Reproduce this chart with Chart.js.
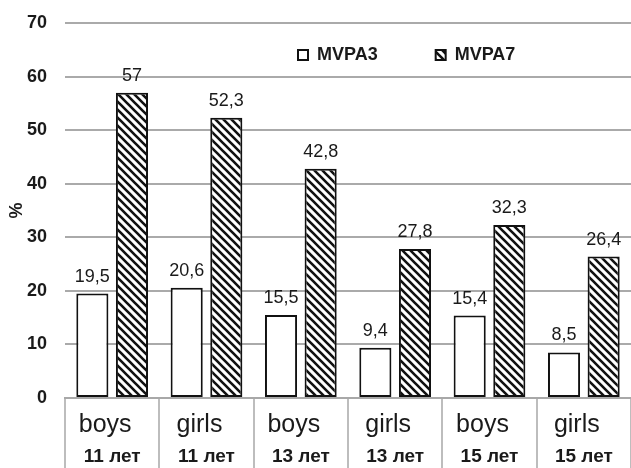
<!DOCTYPE html>
<html>
<head>
<meta charset="utf-8">
<script src="https://cdn.jsdelivr.net/npm/chart.js@4"></script>
<style>
  html, body { margin: 0; padding: 0; background: #fff; }
  #wrap { width: 631px; height: 468px; }
</style>
</head>
<body>
<div id="wrap"><canvas id="mvpaChart" width="631" height="468"></canvas></div>
<script>
'use strict'

// data
const groups = ['boys', 'girls', 'boys', 'girls', 'boys', 'girls'];
const ages = ['11 лет', '11 лет', '13 лет', '13 лет', '15 лет', '15 лет'];
const mvpa3 = [19.5, 20.6, 15.5, 9.4, 15.4, 8.5];
const mvpa7 = [57, 52.3, 42.8, 27.8, 32.3, 26.4];
const yTicks = [0, 10, 20, 30, 40, 50, 60, 70];

// diagonal hatch for MVPA7
function makeHatch() {
    const c = document.createElement('canvas');
    c.width = 8;
    c.height = 8;
    const g = c.getContext('2d');
    g.fillStyle = '#fff';
    g.fillRect(0, 0, 8, 8);
    g.strokeStyle = '#111';
    g.lineWidth = 2.6;
    g.beginPath();
    g.moveTo(-2, -2); g.lineTo(10, 10);
    g.moveTo(-2, 6); g.lineTo(2, 10);
    g.moveTo(6, -2); g.lineTo(10, 2);
    g.stroke();
    return g.createPattern(c, 'repeat');
}

const valueLabels = {
    id: 'valueLabels',
    afterDatasetsDraw(chart) {
        const ctx = chart.ctx;
        ctx.save();
        ctx.font = '18px Arial';
        ctx.fillStyle = '#1a1a1a';
        ctx.textAlign = 'center';
        ctx.textBaseline = 'alphabetic';
        chart.data.datasets.forEach((ds, i) => {
            chart.getDatasetMeta(i).data.forEach((bar, j) => {
                ctx.fillText(String(ds.data[j]).replace('.', ','), bar.x, bar.y - 12);
            });
        });
        ctx.restore();
    }
};

// legend sits inside the plot, between the 70 and 60 lines, in one row
const legendPlace = {
    id: 'legendPlace',
    beforeUpdate(chart) {
        if (chart.legend) chart.legend.isHorizontal = () => true;
    },
    afterLayout(chart) {
        const lg = chart.legend;
        const area = chart.chartArea;
        const w = lg.width, h = lg.height;
        lg.left = area.left + 175;
        lg.right = lg.left + w;
        lg.top = area.top - 35;
        lg.bottom = lg.top + h;
    }
};

const ctx = document.getElementById('mvpaChart').getContext('2d');
const myChart = new Chart(ctx, {
    type: 'bar',
    data: {
        labels: groups,
        datasets: [{
            label: 'MVPA3',
            data: mvpa3,
            backgroundColor: '#ffffff',
            borderColor: '#111111',
            borderWidth: 2,
            borderSkipped: false
        }, {
            label: 'MVPA7',
            data: mvpa7,
            backgroundColor: makeHatch(),
            borderColor: '#111111',
            borderWidth: 2,
            borderSkipped: false
        }]
    },
    plugins: [valueLabels, legendPlace],
    options: {
        responsive: false,
        animation: false,
        devicePixelRatio: 1,
        categoryPercentage: 0.84,
        barPercentage: 0.81,
        layout: { padding: { top: 23, right: 0, bottom: 0, left: 0 } },
        plugins: {
            tooltip: { enabled: false },
            legend: {
                position: 'chartArea',
                align: 'start',
                labels: {
                    boxWidth: 10,
                    boxHeight: 10,
                    padding: 58,
                    color: '#1a1a1a',
                    font: { family: 'Arial', size: 18, weight: 'bold' }
                }
            }
        },
        scales: {
            x: {
                weight: 1,
                offset: true,
                grid: {
                    offset: true,
                    drawOnChartArea: false,
                    tickLength: 40,
                    color: '#bdbdbd',
                    lineWidth: 2
                },
                border: { color: '#a8a8a8', width: 2 },
                ticks: {
                    padding: -28,
                    labelOffset: -7,
                    color: '#1a1a1a',
                    font: { family: 'Arial', size: 25 }
                },
                afterFit(scale) { scale.height = 40; }
            },
            x2: {
                type: 'category',
                position: 'bottom',
                weight: 2,
                labels: ages,
                offset: true,
                grid: {
                    offset: true,
                    drawOnChartArea: false,
                    tickLength: 30,
                    color: '#bdbdbd',
                    lineWidth: 2
                },
                border: { display: false },
                ticks: {
                    padding: -23,
                    color: '#1a1a1a',
                    font: { family: 'Arial', size: 19, weight: 'bold' }
                },
                afterFit(scale) { scale.height = 30; }
            },
            y: {
                min: 0,
                max: 70,
                afterBuildTicks(scale) {
                    scale.ticks = yTicks.map(v => ({ value: v }));
                },
                grid: {
                    color: '#aaaaaa',
                    lineWidth: 2,
                    drawTicks: true,
                    tickLength: 18,
                    tickColor: 'rgba(0,0,0,0)'
                },
                border: { display: false },
                ticks: {
                    padding: 0,
                    color: '#1a1a1a',
                    font: { family: 'Arial', size: 18, weight: 'bold' }
                },
                title: {
                    display: true,
                    text: '%',
                    color: '#1a1a1a',
                    padding: { top: 6, bottom: 0 },
                    font: { family: 'Arial', size: 18, weight: 'bold' }
                },
                afterFit(scale) { scale.width = 65; }
            }
        }
    }
});
</script>
</body>
</html>
